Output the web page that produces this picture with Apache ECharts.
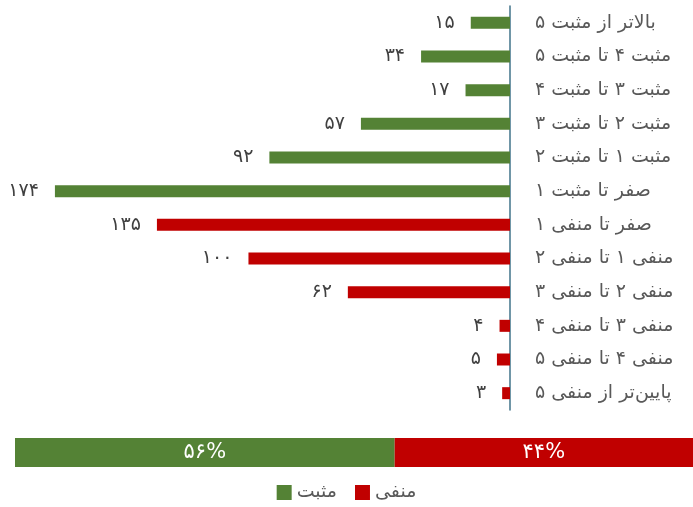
<!DOCTYPE html>
<html>
<head>
<meta charset="utf-8">
<script src="https://cdn.jsdelivr.net/npm/echarts@6/dist/echarts.min.js"></script>
<style>
  html, body { margin: 0; padding: 0; background: #fff; }
  #main { width: 693px; height: 507px; }
</style>
</head>
<body>
<div id="main"></div>
<script>
var categories = [
    'بالاتر از مثبت ۵',
    'مثبت ۴ تا مثبت ۵',
    'مثبت ۳ تا مثبت ۴',
    'مثبت ۲ تا مثبت ۳',
    'مثبت ۱ تا مثبت ۲',
    'صفر تا مثبت ۱',
    'صفر تا منفی ۱',
    'منفی ۱ تا منفی ۲',
    'منفی ۲ تا منفی ۳',
    'منفی ۳ تا منفی ۴',
    'منفی ۴ تا منفی ۵',
    'پایین‌تر از منفی ۵'
];
var positiveValues = [15, 34, 17, 57, 92, 174, '-', '-', '-', '-', '-', '-'];
var negativeValues = ['-', '-', '-', '-', '-', '-', 135, 100, 62, 4, 5, 3];
var shareLabels = ['کل'];
var positiveShare = [56];
var negativeShare = [44];

var green = '#548235';
var red = '#C00000';
var font = 'DejaVu Sans';

function fa(n) {
    return String(n).replace(/[0-9]/g, function (d) { return '۰۱۲۳۴۵۶۷۸۹'[d]; });
}

var chart = echarts.init(document.getElementById('main'));

var valueLabel = {
    show: true,
    position: 'left',
    distance: 16,
    color: '#404040',
    fontSize: 19,
    fontFamily: font,
    formatter: function (p) { return fa(p.value); }
};
var shareLabel = {
    show: true,
    position: 'inside',
    color: '#fff',
    fontSize: 21,
    fontFamily: font,
    formatter: function (p) { return fa(p.value) + '%'; }
};

var option = {
    animation: false,
    textStyle: { fontFamily: font },
    legend: {
        bottom: 0,
        left: 'center',
        itemWidth: 15,
        itemHeight: 15,
        itemGap: 18,
        icon: 'rect',
        data: ['مثبت', 'منفی'],
        textStyle: { fontSize: 19, color: '#595959', fontFamily: font }
    },
    grid: [
        { left: 0, right: 183, top: 6, height: 404 },
        { left: 15, right: 0, top: 438, height: 29 }
    ],
    xAxis: [
        { gridIndex: 0, type: 'value', min: 0, max: 195, inverse: true, show: false },
        { gridIndex: 1, type: 'value', min: 0, max: 100, show: false }
    ],
    yAxis: [
        {
            gridIndex: 0,
            type: 'category',
            data: categories,
            inverse: true,
            position: 'right',
            axisLine: { lineStyle: { color: '#41738a', width: 1.5 } },
            axisTick: { show: false },
            axisLabel: {
                align: 'left',
                margin: 25,
                color: '#595959',
                fontSize: 19,
                fontFamily: font
            }
        },
        { gridIndex: 1, type: 'category', data: shareLabels, show: false }
    ],
    series: [
        {
            name: 'مثبت', type: 'bar', stack: 'a',
            xAxisIndex: 0, yAxisIndex: 0,
            barWidth: 12,
            itemStyle: { color: green },
            label: valueLabel,
            data: positiveValues
        },
        {
            name: 'منفی', type: 'bar', stack: 'a',
            xAxisIndex: 0, yAxisIndex: 0,
            barWidth: 12,
            itemStyle: { color: red },
            label: valueLabel,
            data: negativeValues
        },
        {
            name: 'مثبت', type: 'bar', stack: 'b',
            xAxisIndex: 1, yAxisIndex: 1,
            barWidth: 29,
            itemStyle: { color: green },
            label: shareLabel,
            data: positiveShare
        },
        {
            name: 'منفی', type: 'bar', stack: 'b',
            xAxisIndex: 1, yAxisIndex: 1,
            barWidth: 29,
            itemStyle: { color: red },
            label: shareLabel,
            data: negativeShare
        }
    ]
};
chart.setOption(option);
</script>
</body>
</html>
